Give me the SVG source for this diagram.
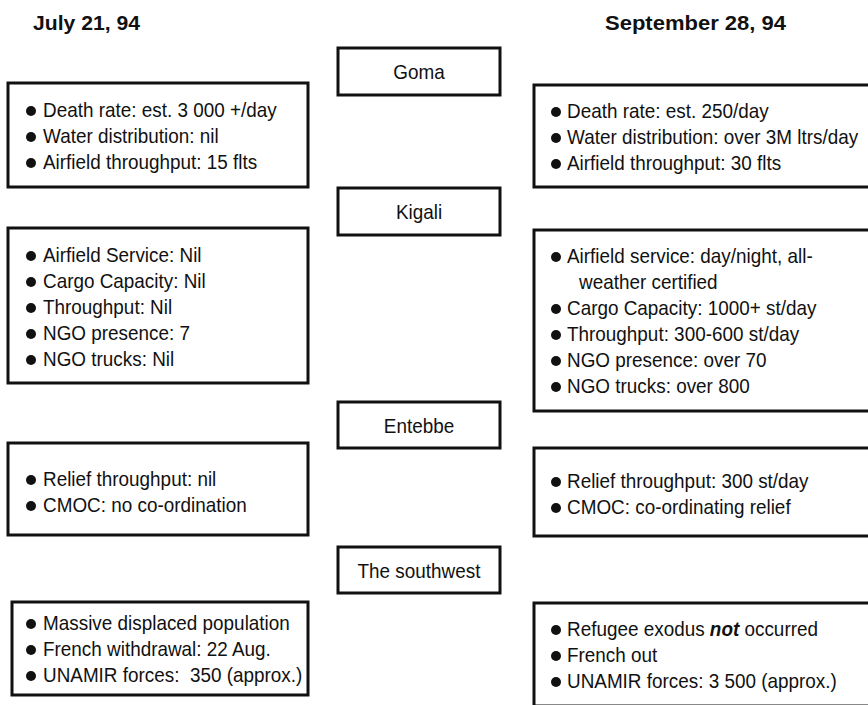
<svg xmlns="http://www.w3.org/2000/svg" width="868" height="705" viewBox="0 0 868 705">
<style>
.bg{fill:#fff}
.box{fill:#fff;stroke:#111;stroke-width:3}
.t{font-family:"Liberation Sans",Arial,sans-serif;font-size:21px;fill:#111}
.h{font-family:"Liberation Sans",Arial,sans-serif;font-size:21px;font-weight:bold;fill:#111}
.c{text-anchor:middle}
.b{fill:#111}
.pre{white-space:pre}
</style>
<rect class="bg" x="0" y="0" width="868" height="705"/>
<g id="headers">
<text class="h" x="33" y="30" textLength="107" lengthAdjust="spacingAndGlyphs">July 21, 94</text>
<text class="h" x="605" y="30" textLength="181" lengthAdjust="spacingAndGlyphs">September 28, 94</text>
</g>
<g id="connectors"></g>
<g id="goma">
<rect class="box" x="338" y="48" width="162" height="47"/>
<text class="t c" transform="translate(419 79) scale(0.9 1)">Goma</text>
</g>
<g id="goma-july">
<rect class="box" x="8" y="83" width="300" height="104"/>
<circle class="b" cx="31" cy="111" r="5"/><text class="t" transform="translate(43 117) scale(0.9 1)">Death rate: est. 3 000 +/day</text>
<circle class="b" cx="31" cy="137" r="5"/><text class="t" transform="translate(43 143) scale(0.9 1)">Water distribution: nil</text>
<circle class="b" cx="31" cy="163" r="5"/><text class="t" transform="translate(43 169) scale(0.9 1)">Airfield throughput: 15 flts</text>
</g>
<g id="goma-sept">
<rect class="box" x="534" y="85" width="346" height="102"/>
<circle class="b" cx="556" cy="112" r="5"/><text class="t" transform="translate(567 118) scale(0.9 1)">Death rate: est. 250/day</text>
<circle class="b" cx="556" cy="138" r="5"/><text class="t" transform="translate(567 144) scale(0.9 1)">Water distribution: over 3M ltrs/day</text>
<circle class="b" cx="556" cy="164" r="5"/><text class="t" transform="translate(567 170) scale(0.9 1)">Airfield throughput: 30 flts</text>
</g>
<g id="kigali">
<rect class="box" x="338" y="188" width="162" height="47"/>
<text class="t c" transform="translate(419 219) scale(0.9 1)">Kigali</text>
</g>
<g id="kigali-july">
<rect class="box" x="8" y="228" width="300" height="155"/>
<circle class="b" cx="31" cy="256" r="5"/><text class="t" transform="translate(43 262) scale(0.9 1)">Airfield Service: Nil</text>
<circle class="b" cx="31" cy="282" r="5"/><text class="t" transform="translate(43 288) scale(0.9 1)">Cargo Capacity: Nil</text>
<circle class="b" cx="31" cy="308" r="5"/><text class="t" transform="translate(43 314) scale(0.9 1)">Throughput: Nil</text>
<circle class="b" cx="31" cy="334" r="5"/><text class="t" transform="translate(43 340) scale(0.9 1)">NGO presence: 7</text>
<circle class="b" cx="31" cy="360" r="5"/><text class="t" transform="translate(43 366) scale(0.9 1)">NGO trucks: Nil</text>
</g>
<g id="kigali-sept">
<rect class="box" x="534" y="230" width="346" height="181"/>
<circle class="b" cx="556" cy="257" r="5"/><text class="t" transform="translate(567 263) scale(0.9 1)">Airfield service: day/night, all-</text>
<text class="t" transform="translate(579 289) scale(0.9 1)">weather certified</text>
<circle class="b" cx="556" cy="309" r="5"/><text class="t" transform="translate(567 315) scale(0.9 1)">Cargo Capacity: 1000+ st/day</text>
<circle class="b" cx="556" cy="335" r="5"/><text class="t" transform="translate(567 341) scale(0.9 1)">Throughput: 300-600 st/day</text>
<circle class="b" cx="556" cy="361" r="5"/><text class="t" transform="translate(567 367) scale(0.9 1)">NGO presence: over 70</text>
<circle class="b" cx="556" cy="387" r="5"/><text class="t" transform="translate(567 393) scale(0.9 1)">NGO trucks: over 800</text>
</g>
<g id="entebbe">
<rect class="box" x="338" y="402" width="162" height="46"/>
<text class="t c" transform="translate(419 433) scale(0.9 1)">Entebbe</text>
</g>
<g id="entebbe-july">
<rect class="box" x="8" y="443" width="300" height="92"/>
<circle class="b" cx="31" cy="480" r="5"/><text class="t" transform="translate(43 486) scale(0.9 1)">Relief throughput: nil</text>
<circle class="b" cx="31" cy="506" r="5"/><text class="t" transform="translate(43 512) scale(0.9 1)">CMOC: no co-ordination</text>
</g>
<g id="entebbe-sept">
<rect class="box" x="534" y="448" width="346" height="88"/>
<circle class="b" cx="556" cy="482" r="5"/><text class="t" transform="translate(567 488) scale(0.9 1)">Relief throughput: 300 st/day</text>
<circle class="b" cx="556" cy="508" r="5"/><text class="t" transform="translate(567 514) scale(0.9 1)">CMOC: co-ordinating relief</text>
</g>
<g id="southwest">
<rect class="box" x="338" y="547" width="162" height="46"/>
<text class="t c" transform="translate(419 578) scale(0.9 1)">The southwest</text>
</g>
<g id="southwest-july">
<rect class="box" x="12" y="602" width="296" height="93"/>
<circle class="b" cx="31" cy="624" r="5"/><text class="t" transform="translate(43 630) scale(0.9 1)">Massive displaced population</text>
<circle class="b" cx="31" cy="650" r="5"/><text class="t" transform="translate(43 656) scale(0.9 1)">French withdrawal: 22 Aug.</text>
<circle class="b" cx="31" cy="676" r="5"/><text class="t pre" transform="translate(43 682) scale(0.9 1)">UNAMIR forces:  350 (approx.)</text>
</g>
<g id="southwest-sept">
<rect class="box" x="534" y="603" width="346" height="103"/>
<circle class="b" cx="556" cy="630" r="5"/><text class="t" transform="translate(567 636) scale(0.9 1)">Refugee exodus <tspan font-weight="bold" font-style="italic">not</tspan> occurred</text>
<circle class="b" cx="556" cy="656" r="5"/><text class="t" transform="translate(567 662) scale(0.9 1)">French out</text>
<circle class="b" cx="556" cy="682" r="5"/><text class="t" transform="translate(567 688) scale(0.9 1)">UNAMIR forces: 3 500 (approx.)</text>
</g>
</svg>
